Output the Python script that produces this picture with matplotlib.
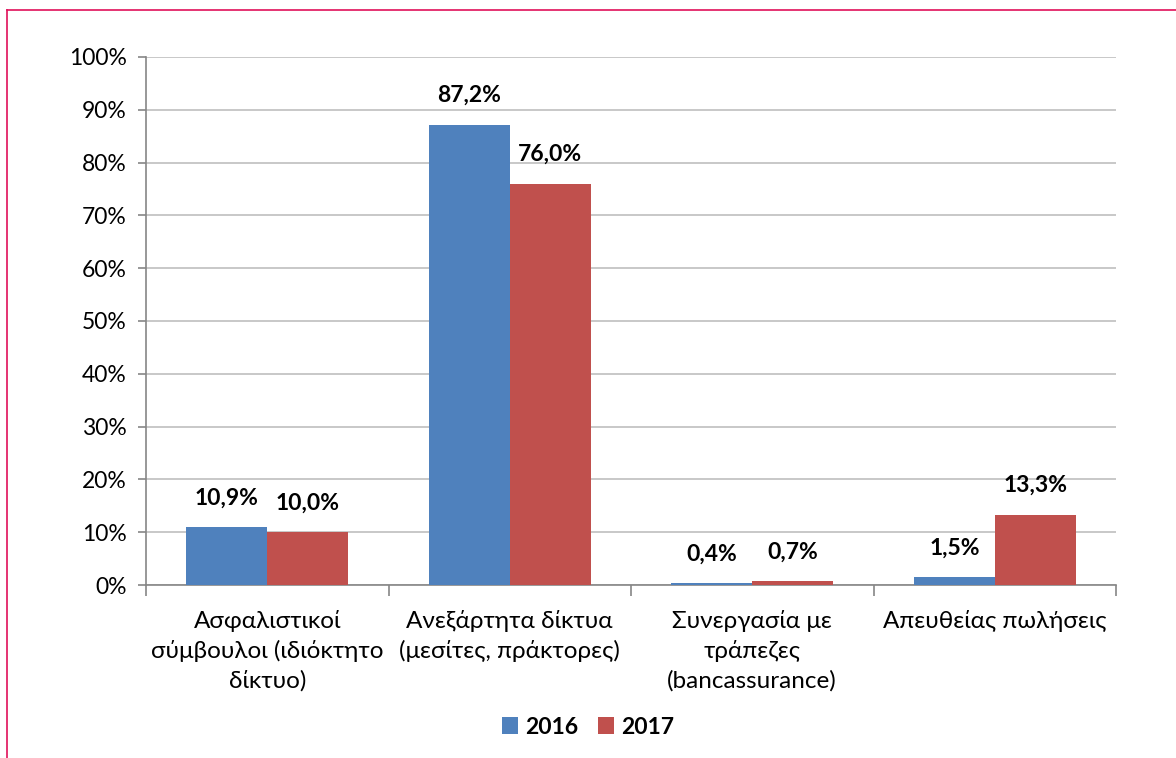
import matplotlib.pyplot as plt
import numpy as np
from matplotlib.lines import Line2D

categories = [
    "Ασφαλιστικοί\nσύμβουλοι (ιδιόκτητο\nδίκτυο)",
    "Ανεξάρτητα δίκτυα\n(μεσίτες, πράκτορες)",
    "Συνεργασία με\nτράπεζες\n(bancassurance)",
    "Απευθείας πωλήσεις",
]
vals_2016 = [10.9, 87.2, 0.4, 1.5]
vals_2017 = [10.0, 76.0, 0.7, 13.3]
series_names = ["2016", "2017"]

plt.rcParams["font.family"] = ["Lato", "DejaVu Sans"]

fig = plt.figure(figsize=(11.76, 7.58), dpi=100)
ax = fig.add_axes([146 / 1176, 1 - 585 / 758, 970 / 1176, 528 / 758])

x = np.arange(len(categories))
w = 1 / 3
colors = ["#4F81BD", "#C0504D"]
for i, (vals, name) in enumerate(zip([vals_2016, vals_2017], series_names)):
    pos = x + (i - 0.5) * w
    ax.bar(pos, vals, width=w, color=colors[i], label=name, zorder=3)
    for px, v in zip(pos, vals):
        ax.annotate(f"{v:.1f}%".replace(".", ","), (px, v), xytext=(0, 21),
                    textcoords="offset points", ha="center", va="center",
                    fontsize=16.5, fontweight="bold")

ax.set_xlim(-0.5, len(categories) - 0.5)
ax.set_ylim(0, 100)
ax.set_yticks(np.arange(0, 101, 10))
ax.set_yticklabels([f"{t}%" for t in range(0, 101, 10)], fontsize=16.5)
ax.yaxis.grid(True, color="#BFBFBF", linewidth=1.2, zorder=0)

ax.set_xticks(np.arange(-0.5, len(categories)), minor=False)
ax.set_xticklabels([])
ax.set_xticks(x, minor=True)
ax.set_xticklabels(categories, minor=True, fontsize=17.5, linespacing=1.45)
ax.tick_params(axis="x", which="major", length=8, color="#868686", width=1.2)
ax.tick_params(axis="x", which="minor", length=0, pad=18)
ax.tick_params(axis="y", length=6, color="#868686", width=1.2, pad=8)

for s in ["top", "right"]:
    ax.spines[s].set_visible(False)
for s in ["left", "bottom"]:
    ax.spines[s].set_color("#868686")
    ax.spines[s].set_linewidth(1.2)

leg = fig.legend(loc="center", bbox_to_anchor=(0.5, 1 - 727 / 758), ncol=2,
                 frameon=False, handlelength=0.7, handleheight=0.7,
                 handletextpad=0.3, columnspacing=0.9,
                 prop={"size": 16.5, "weight": "bold"})

# pink frame on top and left edges
fig.add_artist(Line2D([7 / 1176, 1], [1 - 10 / 758, 1 - 10 / 758], color="#E0105A", linewidth=1.2))
fig.add_artist(Line2D([7 / 1176, 7 / 1176], [0, 1 - 10 / 758], color="#E0105A", linewidth=1.2))

fig.savefig("out.png", dpi=100)
